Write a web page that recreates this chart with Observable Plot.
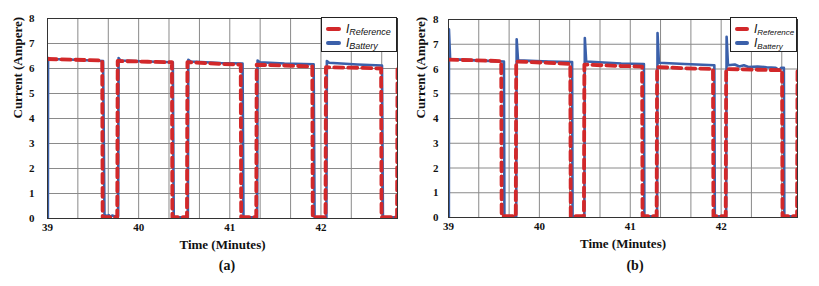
<!DOCTYPE html>
<html>
<head>
<meta charset="utf-8">
<script src="https://cdn.jsdelivr.net/npm/d3@7"></script>
<script src="https://cdn.jsdelivr.net/npm/@observablehq/plot@0.6"></script>
<style>
  html, body { margin: 0; padding: 0; background: #fff; }
  #root { position: relative; width: 819px; height: 286px; overflow: hidden; }
  .panel { position: absolute; top: 0; }
  .cap { position: absolute; font: bold 14px "Liberation Serif", serif; color: #111; text-align: center; }
  .legend { position: absolute; background: #fff; border: 1px solid #222; box-sizing: border-box;
            font-family: "Liberation Sans", Arial, sans-serif; font-style: italic; color: #111; }
  .row { position: absolute; left: 0; display: flex; align-items: center; }
  .sw { display: inline-block; height: 4px; border-radius: 2px; }
  .big { font-size: 12px; }
  .sub { font-size: 9px; position: relative; top: 3px; }
</style>
</head>
<body>
<div id="root"></div>
<script>
// ---------------- data ----------------
const xTicks = [39, 40, 41, 42];
const xGrid = [39, 39.333, 39.667, 40, 40.333, 40.667, 41, 41.333, 41.667, 42, 42.333, 42.667];
const yTicks = [0, 1, 2, 3, 4, 5, 6, 7, 8];
const seriesNames = ["Reference", "Battery"];

// panel (a)
const aBatT = [39.004, 39.006, 39.03, 39.3, 39.61, 39.625, 39.64, 39.655, 39.67, 39.69, 39.71, 39.74, 39.775, 39.78, 39.80, 40.1, 40.375, 40.385, 40.54, 40.545, 40.57, 40.9, 41.14, 41.15, 41.30, 41.305, 41.33, 41.6, 41.92, 41.93, 42.06, 42.065, 42.09, 42.4, 42.67, 42.68, 42.84];
const aBatI = [0.0, 6.42, 6.38, 6.35, 6.30, 0.15, 0.12, 0.05, 0.14, 0.06, 0.12, 0.08, 0.10, 6.42, 6.32, 6.28, 6.25, 0.05, 0.05, 6.35, 6.28, 6.22, 6.20, 0.05, 0.05, 6.32, 6.25, 6.20, 6.17, 0.05, 0.05, 6.30, 6.23, 6.16, 6.12, 0.05, 0.05];
const aRefT = [39.0, 39.3, 39.60, 39.605, 39.765, 39.77, 40.1, 40.365, 40.37, 40.53, 40.535, 40.9, 41.12, 41.125, 41.29, 41.295, 41.6, 41.905, 41.91, 42.05, 42.055, 42.4, 42.66, 42.665, 42.835, 42.84];
const aRefI = [6.38, 6.35, 6.32, 0.05, 0.05, 6.30, 6.27, 6.25, 0.05, 0.05, 6.25, 6.18, 6.15, 0.05, 0.05, 6.15, 6.12, 6.08, 0.05, 0.05, 6.05, 6.03, 6.00, 0.05, 0.05, 6.00];

// panel (b)
const bBatT = [39.004, 39.005, 39.018, 39.3, 39.61, 39.615, 39.745, 39.75, 39.765, 40.1, 40.36, 40.365, 40.495, 40.50, 40.515, 40.9, 41.15, 41.155, 41.295, 41.30, 41.315, 41.6, 41.925, 41.93, 42.055, 42.06, 42.075, 42.15, 42.2, 42.25, 42.3, 42.4, 42.5, 42.6, 42.64, 42.66, 42.69, 42.695, 42.84];
const bBatI = [0.0, 7.6, 6.4, 6.35, 6.30, 0.05, 0.05, 7.2, 6.35, 6.30, 6.28, 0.05, 0.05, 7.25, 6.30, 6.22, 6.20, 0.05, 0.05, 7.45, 6.25, 6.20, 6.15, 0.05, 0.05, 7.3, 6.15, 6.18, 6.10, 6.15, 6.08, 6.10, 6.07, 6.05, 5.95, 6.05, 6.05, 0.05, 0.05];
const bRefT = [39.0, 39.3, 39.58, 39.585, 39.74, 39.745, 40.1, 40.34, 40.345, 40.49, 40.495, 40.9, 41.13, 41.135, 41.29, 41.295, 41.6, 41.91, 41.915, 42.05, 42.055, 42.4, 42.67, 42.675, 42.835, 42.84];
const bRefI = [6.38, 6.35, 6.32, 0.05, 0.05, 6.30, 6.25, 6.20, 0.05, 0.05, 6.18, 6.12, 6.10, 0.05, 0.05, 6.08, 6.03, 6.00, 0.05, 0.05, 6.00, 5.97, 5.95, 0.05, 0.05, 5.90];

// ---------------- drawing ----------------
const BLUE = "#3b60aa";
const RED = "#d2282a";
const root = document.getElementById("root");

function zip(t, v) { return t.map((d, i) => ({t: d, v: v[i]})); }

function panel(o) {
  const bat = zip(o.bt, o.bv);
  const ref = zip(o.rt, o.rv);
  const chart = Plot.plot({
    width: o.width, height: 255,
    marginLeft: o.ml, marginRight: o.mr, marginTop: o.mt, marginBottom: o.mb,
    x: {domain: [39, 42.84]},
    y: {domain: [0, 8]},
    style: {fontFamily: "Liberation Serif, serif", fontWeight: "bold", fontSize: "11px", color: "#111", background: "#fff"},
    marks: [
      Plot.gridX(xGrid, {stroke: "#8a8a8a", strokeOpacity: 1, strokeWidth: 1}),
      Plot.gridY(yTicks, {stroke: "#8a8a8a", strokeOpacity: 1, strokeWidth: 1}),
      Plot.line(bat, {x: "t", y: "v", stroke: BLUE, strokeWidth: 2.6, clip: true}),
      Plot.line(ref, {x: "t", y: "v", stroke: RED, strokeWidth: 3.8, strokeDasharray: "9,5", clip: true}),
      Plot.frame({stroke: "#333", strokeWidth: 1}),
      Plot.axisX(xTicks, {tickSize: 0, tickPadding: 5, label: null, tickFormat: d => String(d)}),
      Plot.axisY(yTicks, {tickSize: 0, tickPadding: o.tp, label: null}),
      Plot.text(["Time (Minutes)"], {frameAnchor: "bottom", dy: 30, fontSize: 13}),
      Plot.text(["Current (Ampere)"], {frameAnchor: "left", dx: o.ldx, rotate: -90, fontSize: 13})
    ]
  });
  const wrap = document.createElement("div");
  wrap.className = "panel";
  wrap.style.left = o.left + "px";
  wrap.appendChild(chart);
  root.appendChild(wrap);

  const cap = document.createElement("div");
  cap.className = "cap";
  cap.style.left = (o.left + o.capX - 30) + "px";
  cap.style.width = "60px";
  cap.style.top = "258px";
  cap.textContent = o.cap;
  root.appendChild(cap);

  const lg = document.createElement("div");
  lg.className = "legend";
  lg.style.left = o.lgL + "px";
  lg.style.top = "17px";
  lg.style.width = o.lgW + "px";
  lg.style.height = "35px";
  const cols = [RED, BLUE];
  seriesNames.forEach((n, i) => {
    const r = document.createElement("div");
    r.className = "row";
    r.style.top = (i === 0 ? 4 : 18) + "px";
    r.style.height = "14px";
    r.innerHTML = `<span class="sw" style="background:${cols[i]};width:${o.swW}px;margin-left:4px;margin-right:5px"></span>` +
      `<span class="big">I</span><span class="sub" style="font-size:${o.subF}px">${n}</span>`;
    lg.appendChild(r);
  });
  root.appendChild(lg);
}

panel({left: 0, width: 410, ml: 47, mr: 13, mt: 18, mb: 37, tp: 13, ldx: -30,
       bt: aBatT, bv: aBatI, rt: aRefT, rv: aRefI, cap: "(a)", capX: 227,
       lgL: 321, lgW: 76, swW: 15, subF: 9});
panel({left: 410, width: 409, ml: 38, mr: 22, mt: 19, mb: 38, tp: 10, ldx: -28,
       bt: bBatT, bv: bBatI, rt: bRefT, rv: bRefI, cap: "(b)", capX: 225,
       lgL: 730, lgW: 67, swW: 14, subF: 8});
</script>
</body>
</html>
